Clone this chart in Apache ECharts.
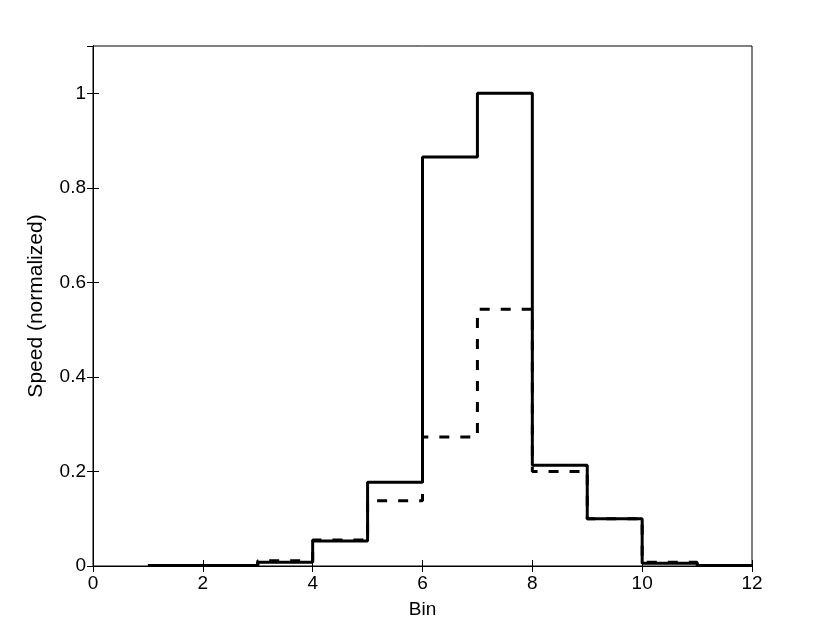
<!DOCTYPE html>
<html>
<head>
<meta charset="utf-8">
<script src="https://cdn.jsdelivr.net/npm/echarts@6/dist/echarts.min.js"></script>
<style>
  html, body { margin: 0; padding: 0; background: #fff; }
  #main { width: 830px; height: 619px; }
</style>
</head>
<body>
<div id="main"></div>
<script>
// bin positions and stair values
var bins = [1, 2, 3, 4, 5, 6, 7, 8, 9, 10, 11, 12];
var speedSolid = [0.001, 0.001, 0.008, 0.053, 0.177, 0.865, 1.0, 0.213, 0.1, 0.006, 0.001, 0.001];
var speedDashed = [0.001, 0.001, 0.011, 0.055, 0.138, 0.273, 0.543, 0.2, 0.1, 0.008, 0.001, 0.001];
var xTicks = [0, 2, 4, 6, 8, 10, 12];
var yTicks = [0, 0.2, 0.4, 0.6, 0.8, 1];

function pairs(xs, ys) {
	var out = [];
	for (var i = 0; i < xs.length; i++) {
		out.push([xs[i], ys[i]]);
	}
	return out;
}

var font = 'Liberation Sans, Arial, Helvetica, sans-serif';

var myChart = echarts.init(document.getElementById('main'));
var option = {
	animation : false,
	backgroundColor : '#fff',
	grid : {
		left : 93,
		top : 46,
		right : 78,
		bottom : 53,
		outerBoundsMode : 'none',
		containLabel : false,
		show : true,
		borderColor : '#000',
		borderWidth : 1
	},
	xAxis : [ {
		type : 'value',
		min : xTicks[0],
		max : xTicks[xTicks.length - 1],
		interval : 2,
		name : 'Bin',
		nameLocation : 'middle',
		nameGap : 34,
		nameTextStyle : { color : '#000', fontSize : 19, fontFamily : font },
		axisLine : { lineStyle : { color : '#000', width : 1 } },
		axisTick : { inside : true, length : 6, lineStyle : { color : '#000' } },
		axisLabel : { color : '#000', fontSize : 19, fontFamily : font, margin : 8 },
		splitLine : { show : false }
	}, {
		type : 'value',
		position : 'top',
		min : xTicks[0],
		max : xTicks[xTicks.length - 1],
		interval : 2,
		axisLine : { lineStyle : { color : '#000', width : 1 } },
		axisTick : { inside : true, length : 6, lineStyle : { color : '#000' } },
		axisLabel : { show : false },
		splitLine : { show : false }
	} ],
	yAxis : [ {
		type : 'value',
		min : 0,
		max : 1.1,
		interval : 0.2,
		name : 'Speed (normalized)',
		nameLocation : 'middle',
		nameGap : 46,
		nameTextStyle : { color : '#000', fontSize : 21, fontFamily : font },
		axisLine : { lineStyle : { color : '#000', width : 1 } },
		axisTick : { inside : true, length : 6, lineStyle : { color : '#000' } },
		axisLabel : {
			color : '#000', fontSize : 19, fontFamily : font, margin : 7,
			showMaxLabel : false,
			formatter : function (v) {
				var r = Math.round(v * 10) / 10;
				return yTicks.indexOf(r) >= 0 ? String(r) : '';
			}
		},
		splitLine : { show : false }
	}, {
		type : 'value',
		position : 'right',
		min : 0,
		max : 1.1,
		interval : 0.2,
		axisLine : { lineStyle : { color : '#000', width : 1 } },
		axisTick : { inside : true, length : 6, lineStyle : { color : '#000' } },
		axisLabel : { show : false },
		splitLine : { show : false }
	} ],
	series : [ {
		type : 'line',
		step : 'end',
		data : pairs(bins, speedDashed),
		symbol : 'none',
		z : 2,
		lineStyle : { color : '#000', width : 3, type : [10, 11] }
	}, {
		type : 'line',
		step : 'end',
		data : pairs(bins, speedSolid),
		symbol : 'none',
		z : 3,
		lineStyle : { color : '#000', width : 3 }
	} ]
};
myChart.setOption(option);
</script>
</body>
</html>
